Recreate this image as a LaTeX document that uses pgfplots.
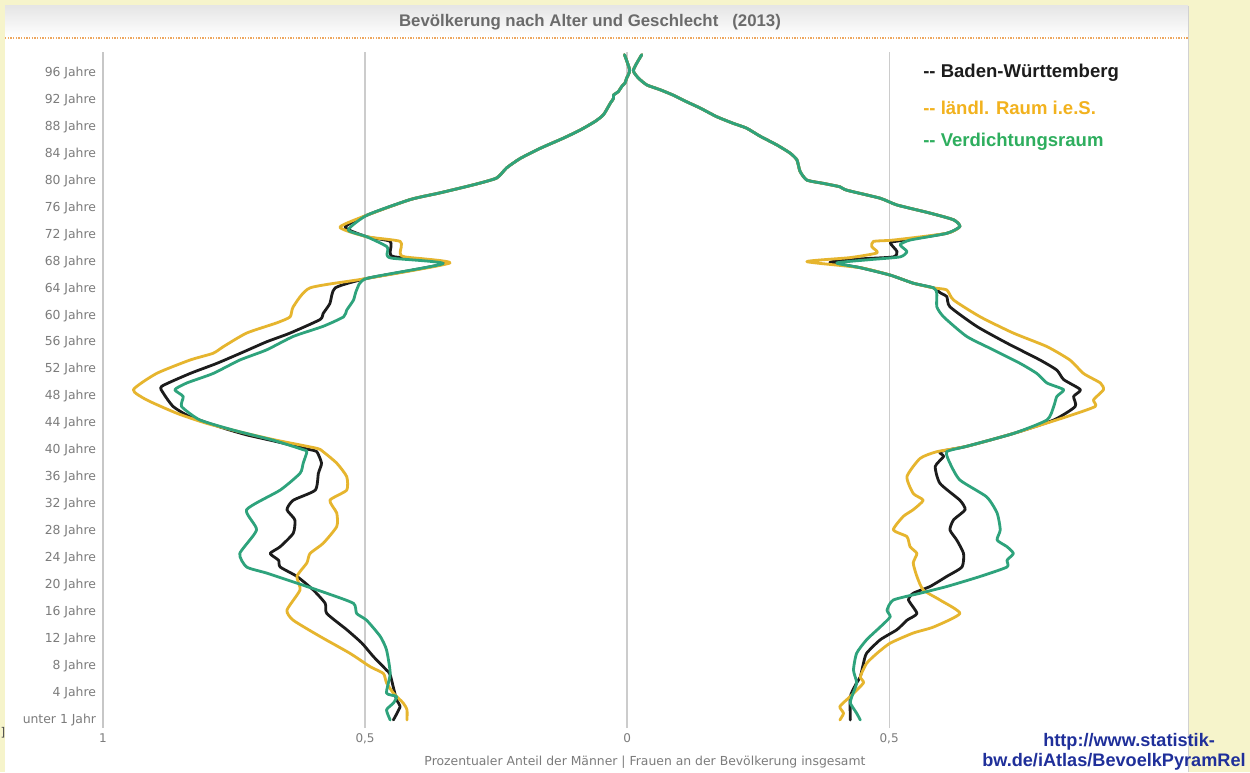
\documentclass[border=0pt]{standalone}
\usepackage{pgfplots}
\pgfplotsset{compat=1.18}
\usepackage{fontspec}
\setmainfont{DejaVu Sans}
\newfontfamily\lib{Liberation Sans}
\definecolor{bgyel}{HTML}{F6F4CB}
\definecolor{cblack}{HTML}{1C1C1C}
\definecolor{cyel}{HTML}{E6B52E}
\definecolor{cgreen}{HTML}{2EA37C}
\definecolor{lyel}{HTML}{F2B21E}
\definecolor{lgreen}{HTML}{2EAE5E}
\definecolor{tgray}{HTML}{7C7C7C}
\definecolor{urlblue}{HTML}{1F2F9A}
\begin{document}
\begin{tikzpicture}[x=0.75pt,y=0.75pt]
\useasboundingbox (0,0) rectangle (1250,772);
\clip (0,0) rectangle (1250,772);
\fill[bgyel] (0,0) rectangle (1250,772);
\fill[white] (5,0) rectangle (1188,766);
\shade[top color=black!10, bottom color=white] (5,735) rectangle (1188,766);
\draw[black!18] (1188,0) -- (1188,766);
\node[font=\lib\bfseries\fontsize{12.6}{14}\selectfont, text=black!58] at (590,750) {Bevölkerung nach Alter und Geschlecht\ \ \ (2013)};
\draw[color=orange!60!brown!70, line width=1pt, dash pattern=on 1pt off 1pt] (5,734) -- (1188,734);

\begin{axis}[
  at={(77.25pt,33pt)}, anchor=south west,
  width=807.75pt, height=507pt, scale only axis,
  xmin=-1, xmax=1.055, ymin=-1.19, ymax=99.1,
  axis line style={draw=none},
  xtick pos=bottom, ytick pos=left,
  xtick={-1,-0.5,0,0.5},
  xticklabels={1,{0,5},0,{0,5}},
  ytick={0,4,8,12,16,20,24,28,32,36,40,44,48,52,56,60,64,68,72,76,80,84,88,92,96},
  yticklabels={unter 1 Jahr,4 Jahre,8 Jahre,12 Jahre,16 Jahre,20 Jahre,24 Jahre,28 Jahre,32 Jahre,36 Jahre,40 Jahre,44 Jahre,48 Jahre,52 Jahre,56 Jahre,60 Jahre,64 Jahre,68 Jahre,72 Jahre,76 Jahre,80 Jahre,84 Jahre,88 Jahre,92 Jahre,96 Jahre},
  major tick length=0pt,
  yticklabel style={font=\fontsize{9.3}{10}\selectfont, text=tgray, anchor=east, inner sep=0pt, xshift=-5pt},
  xticklabel style={font=\fontsize{9}{10}\selectfont, text=tgray, anchor=north, inner sep=0pt, yshift=-4pt},
  clip=false,
  every axis plot/.append style={line width=2.1pt, line join=round, line cap=round, smooth, tension=0.35},
]
% grid lines and left axis line
\draw[black!22, line width=0.8pt] (axis cs:-1,-1.19) -- (axis cs:-1,99.1);
\draw[black!20, line width=0.9pt] (axis cs:-0.5,-1.19) -- (axis cs:-0.5,99.1);
\draw[black!20, line width=0.9pt] (axis cs:0,-1.19) -- (axis cs:0,99.1);
\draw[black!20, line width=0.9pt] (axis cs:0.5,-1.19) -- (axis cs:0.5,99.1);

% ---------- Baden-Württemberg (black)
\addplot[cblack] coordinates {
(-0.005,98.7)(0.005,96.4)(-0.001,95.2)(-0.004,94.5)(-0.010,94.0)(-0.017,93.2)(-0.026,92.7)(-0.026,92.2)(-0.032,91.5)(-0.045,89.8)(-0.061,88.8)(-0.090,87.5)(-0.122,86.3)(-0.166,84.8)(-0.204,83.3)(-0.230,81.9)(-0.249,80.4)(-0.293,79.4)(-0.357,78.2)(-0.414,77.2)(-0.496,74.9)
(-0.538,73.1)(-0.497,71.7)(-0.452,71.0)(-0.452,69.3)(-0.443,68.7)(-0.344,67.8)(-0.497,65.5)(-0.557,64.1)(-0.567,61.8)(-0.580,60.3)(-0.586,59.4)(-0.643,57.4)(-0.688,56.1)(-0.732,54.6)(-0.783,52.9)(-0.834,51.4)(-0.888,49.5)(-0.885,48.5)(-0.866,46.5)(-0.834,45.0)(-0.770,43.3)(-0.726,42.3)(-0.669,41.3)(-0.605,40.1)(-0.592,39.8)(-0.583,38.1)(-0.589,36.6)(-0.595,34.1)(-0.637,32.6)(-0.649,31.2)(-0.634,29.7)(-0.637,27.7)(-0.662,25.7)(-0.681,24.7)(-0.665,23.7)(-0.662,22.7)(-0.630,21.3)(-0.599,19.3)(-0.576,17.3)(-0.573,15.8)(-0.535,13.4)(-0.506,11.4)(-0.484,9.4)(-0.459,7.4)(-0.452,6.7)(-0.440,3.0)(-0.433,2.0)(-0.446,0)
};
\addplot[cblack] coordinates {
(0.028,98.7)(0.012,96.4)(0.022,95.2)(0.038,94.2)(0.063,93.5)(0.088,92.7)(0.114,91.7)(0.139,90.8)(0.171,89.5)(0.203,88.5)(0.228,87.8)(0.254,86.6)(0.286,85.3)(0.311,84.1)(0.324,83.1)(0.330,81.4)(0.343,80.1)(0.375,79.6)(0.406,79.1)(0.419,78.6)(0.483,77.4)(0.515,76.4)(0.578,75.2)(0.623,74.2)(0.635,73.2)(0.610,72.2)
(0.521,71.1)(0.502,70.8)(0.515,69.5)(0.508,68.7)(0.445,68.4)(0.387,67.9)(0.445,67.1)(0.502,66.0)(0.546,64.8)(0.585,64.1)(0.597,63.4)(0.610,62.8)(0.616,61.3)(0.667,58.4)(0.725,55.9)(0.788,53.4)(0.820,51.9)(0.833,50.5)(0.865,49.0)(0.852,48.0)(0.855,46.5)(0.814,44.5)(0.737,42.5)(0.648,40.6)(0.597,39.8)(0.604,39.1)(0.588,37.6)(0.597,35.1)(0.635,32.6)(0.645,31.2)(0.623,29.7)(0.616,28.2)(0.629,26.7)(0.642,24.7)(0.639,22.7)(0.610,21.3)(0.578,19.8)(0.546,18.8)(0.537,17.8)(0.553,15.8)(0.534,14.8)(0.515,13.4)(0.483,11.9)(0.457,9.9)(0.451,8.4)(0.445,6.4)(0.438,5.5)(0.426,3.5)(0.426,0)
};

% ---------- ländl. Raum (yellow)
\addplot[cyel] coordinates {
(-0.005,98.7)(0.005,96.4)(-0.001,95.2)(-0.004,94.5)(-0.010,94.0)(-0.017,93.2)(-0.026,92.7)(-0.026,92.2)(-0.032,91.5)(-0.045,89.8)(-0.061,88.8)(-0.090,87.5)(-0.122,86.3)(-0.166,84.8)(-0.204,83.3)(-0.230,81.9)(-0.249,80.4)(-0.293,79.4)(-0.357,78.2)(-0.414,77.2)(-0.496,74.9)
(-0.548,73.1)(-0.497,71.7)(-0.433,71.0)(-0.433,69.3)(-0.424,68.7)(-0.338,67.8)(-0.497,65.5)(-0.605,64.1)(-0.637,61.3)(-0.643,59.8)(-0.669,58.9)(-0.726,57.4)(-0.770,55.4)(-0.790,54.4)(-0.834,53.4)(-0.898,51.4)(-0.942,49.0)(-0.917,47.5)(-0.859,45.5)(-0.802,44.0)(-0.726,42.5)(-0.669,41.5)(-0.592,40.3)(-0.580,39.8)(-0.554,38.1)(-0.535,36.1)(-0.535,34.1)(-0.567,32.6)(-0.554,30.7)(-0.554,28.7)(-0.580,26.2)(-0.605,24.7)(-0.611,23.3)(-0.630,21.3)(-0.624,19.3)(-0.649,16.3)(-0.637,14.8)(-0.586,12.4)(-0.529,9.9)(-0.490,7.9)(-0.465,6.9)(-0.459,5.5)(-0.446,4.0)(-0.427,2.5)(-0.420,1.5)(-0.420,0)
};
\addplot[cyel] coordinates {
(0.028,98.7)(0.012,96.4)(0.022,95.2)(0.038,94.2)(0.063,93.5)(0.088,92.7)(0.114,91.7)(0.139,90.8)(0.171,89.5)(0.203,88.5)(0.228,87.8)(0.254,86.6)(0.286,85.3)(0.311,84.1)(0.324,83.1)(0.330,81.4)(0.343,80.1)(0.375,79.6)(0.406,79.1)(0.419,78.6)(0.483,77.4)(0.515,76.4)(0.578,75.2)(0.623,74.2)(0.635,73.2)(0.610,72.2)
(0.508,71.2)(0.470,71.0)(0.467,70.2)(0.477,69.3)(0.426,68.6)(0.343,68.0)(0.445,67.1)(0.502,66.0)(0.546,64.8)(0.585,64.1)(0.610,63.8)(0.623,62.3)(0.674,59.8)(0.737,57.4)(0.801,55.4)(0.845,53.4)(0.871,51.4)(0.903,50.0)(0.909,49.0)(0.890,47.5)(0.893,46.5)(0.839,45.0)(0.737,42.5)(0.648,40.6)(0.591,39.8)(0.559,38.8)(0.534,36.1)(0.546,33.6)(0.565,32.6)(0.546,31.2)(0.527,30.2)(0.508,28.2)(0.534,27.2)(0.540,25.7)(0.553,24.7)(0.546,23.3)(0.553,21.3)(0.565,19.3)(0.597,17.8)(0.635,15.8)(0.585,13.8)(0.546,12.9)(0.502,11.4)(0.477,9.9)(0.457,8.4)(0.445,6.4)(0.451,5.5)(0.426,3.5)(0.406,2.0)(0.413,1.0)(0.406,0)
};

% ---------- Verdichtungsraum (green)
\addplot[cgreen] coordinates {
(-0.005,98.7)(0.005,96.4)(-0.001,95.2)(-0.004,94.5)(-0.010,94.0)(-0.017,93.2)(-0.026,92.7)(-0.026,92.2)(-0.032,91.5)(-0.045,89.8)(-0.061,88.8)(-0.090,87.5)(-0.122,86.3)(-0.166,84.8)(-0.204,83.3)(-0.230,81.9)(-0.249,80.4)(-0.293,79.4)(-0.357,78.2)(-0.414,77.2)(-0.496,74.9)
(-0.532,72.7)(-0.497,71.7)(-0.458,70.2)(-0.458,69.0)(-0.448,68.5)(-0.351,67.7)(-0.497,65.5)(-0.516,63.8)(-0.522,62.3)(-0.535,60.8)(-0.541,59.8)(-0.580,58.4)(-0.637,56.9)(-0.688,54.9)(-0.739,53.4)(-0.790,51.4)(-0.840,50.0)(-0.863,49.0)(-0.847,48.0)(-0.850,46.5)(-0.815,44.5)(-0.751,43.0)(-0.675,41.5)(-0.618,40.1)(-0.611,39.8)(-0.618,38.1)(-0.624,36.6)(-0.662,34.1)(-0.726,31.2)(-0.707,28.2)(-0.739,24.7)(-0.726,22.7)(-0.688,21.8)(-0.630,20.3)(-0.573,18.8)(-0.522,17.3)(-0.516,15.8)(-0.497,14.8)(-0.471,12.4)(-0.459,10.4)(-0.452,6.9)(-0.459,4.0)(-0.440,3.5)(-0.446,2.5)(-0.459,1.5)(-0.452,0)
};
\addplot[cgreen] coordinates {
(0.028,98.7)(0.012,96.4)(0.022,95.2)(0.038,94.2)(0.063,93.5)(0.088,92.7)(0.114,91.7)(0.139,90.8)(0.171,89.5)(0.203,88.5)(0.228,87.8)(0.254,86.6)(0.286,85.3)(0.311,84.1)(0.324,83.1)(0.330,81.4)(0.343,80.1)(0.375,79.6)(0.406,79.1)(0.419,78.6)(0.483,77.4)(0.515,76.4)(0.578,75.2)(0.623,74.2)(0.635,73.2)(0.610,72.2)
(0.540,71.2)(0.521,70.5)(0.534,69.5)(0.521,68.7)(0.464,68.3)(0.400,67.8)(0.445,67.1)(0.502,66.0)(0.546,64.8)(0.585,64.1)(0.591,63.3)(0.591,61.3)(0.604,59.8)(0.648,56.9)(0.699,54.9)(0.750,52.9)(0.782,51.4)(0.801,50.0)(0.833,49.0)(0.820,48.0)(0.814,46.5)(0.801,44.5)(0.737,42.5)(0.648,40.6)(0.610,39.8)(0.616,38.1)(0.635,35.6)(0.686,33.1)(0.706,30.7)(0.712,28.2)(0.706,26.7)(0.725,25.7)(0.737,24.7)(0.725,23.7)(0.725,22.7)(0.674,21.3)(0.610,19.8)(0.559,18.8)(0.508,17.8)(0.496,16.3)(0.502,15.3)(0.483,13.8)(0.457,11.9)(0.438,9.9)(0.432,7.4)(0.438,5.5)(0.429,3.5)(0.426,2.5)(0.438,1.0)(0.445,0)
};
\end{axis}

% legend
\node[anchor=west, inner sep=0pt, font=\lib\bfseries\fontsize{13.9}{15}\selectfont, text=cblack] at (923,699) {-{}- Baden-Württemberg};
\node[anchor=west, inner sep=0pt, font=\lib\bfseries\fontsize{13.9}{15}\selectfont, text=lyel] at (923,664) {-{}- ländl. Raum i.e.S.};
\node[anchor=west, inner sep=0pt, font=\lib\bfseries\fontsize{13.9}{15}\selectfont, text=lgreen] at (923,630) {-{}- Verdichtungsraum};

% x label
\node[font=\fontsize{9.3}{10}\selectfont, text=tgray] at (645,10) {Prozentualer Anteil der Männer | Frauen an der Bevölkerung insgesamt};
\node[font=\fontsize{9}{10}\selectfont, text=black!70] at (3,39) {]};

% url
\node[anchor=west, inner sep=0pt, font=\lib\bfseries\fontsize{13.6}{15}\selectfont, text=urlblue] at (1043,30) {http://www.statistik-};
\node[anchor=west, inner sep=0pt, font=\lib\bfseries\fontsize{13.6}{15}\selectfont, text=urlblue] at (982,10) {bw.de/iAtlas/BevoelkPyramRel};
\end{tikzpicture}
\end{document}
